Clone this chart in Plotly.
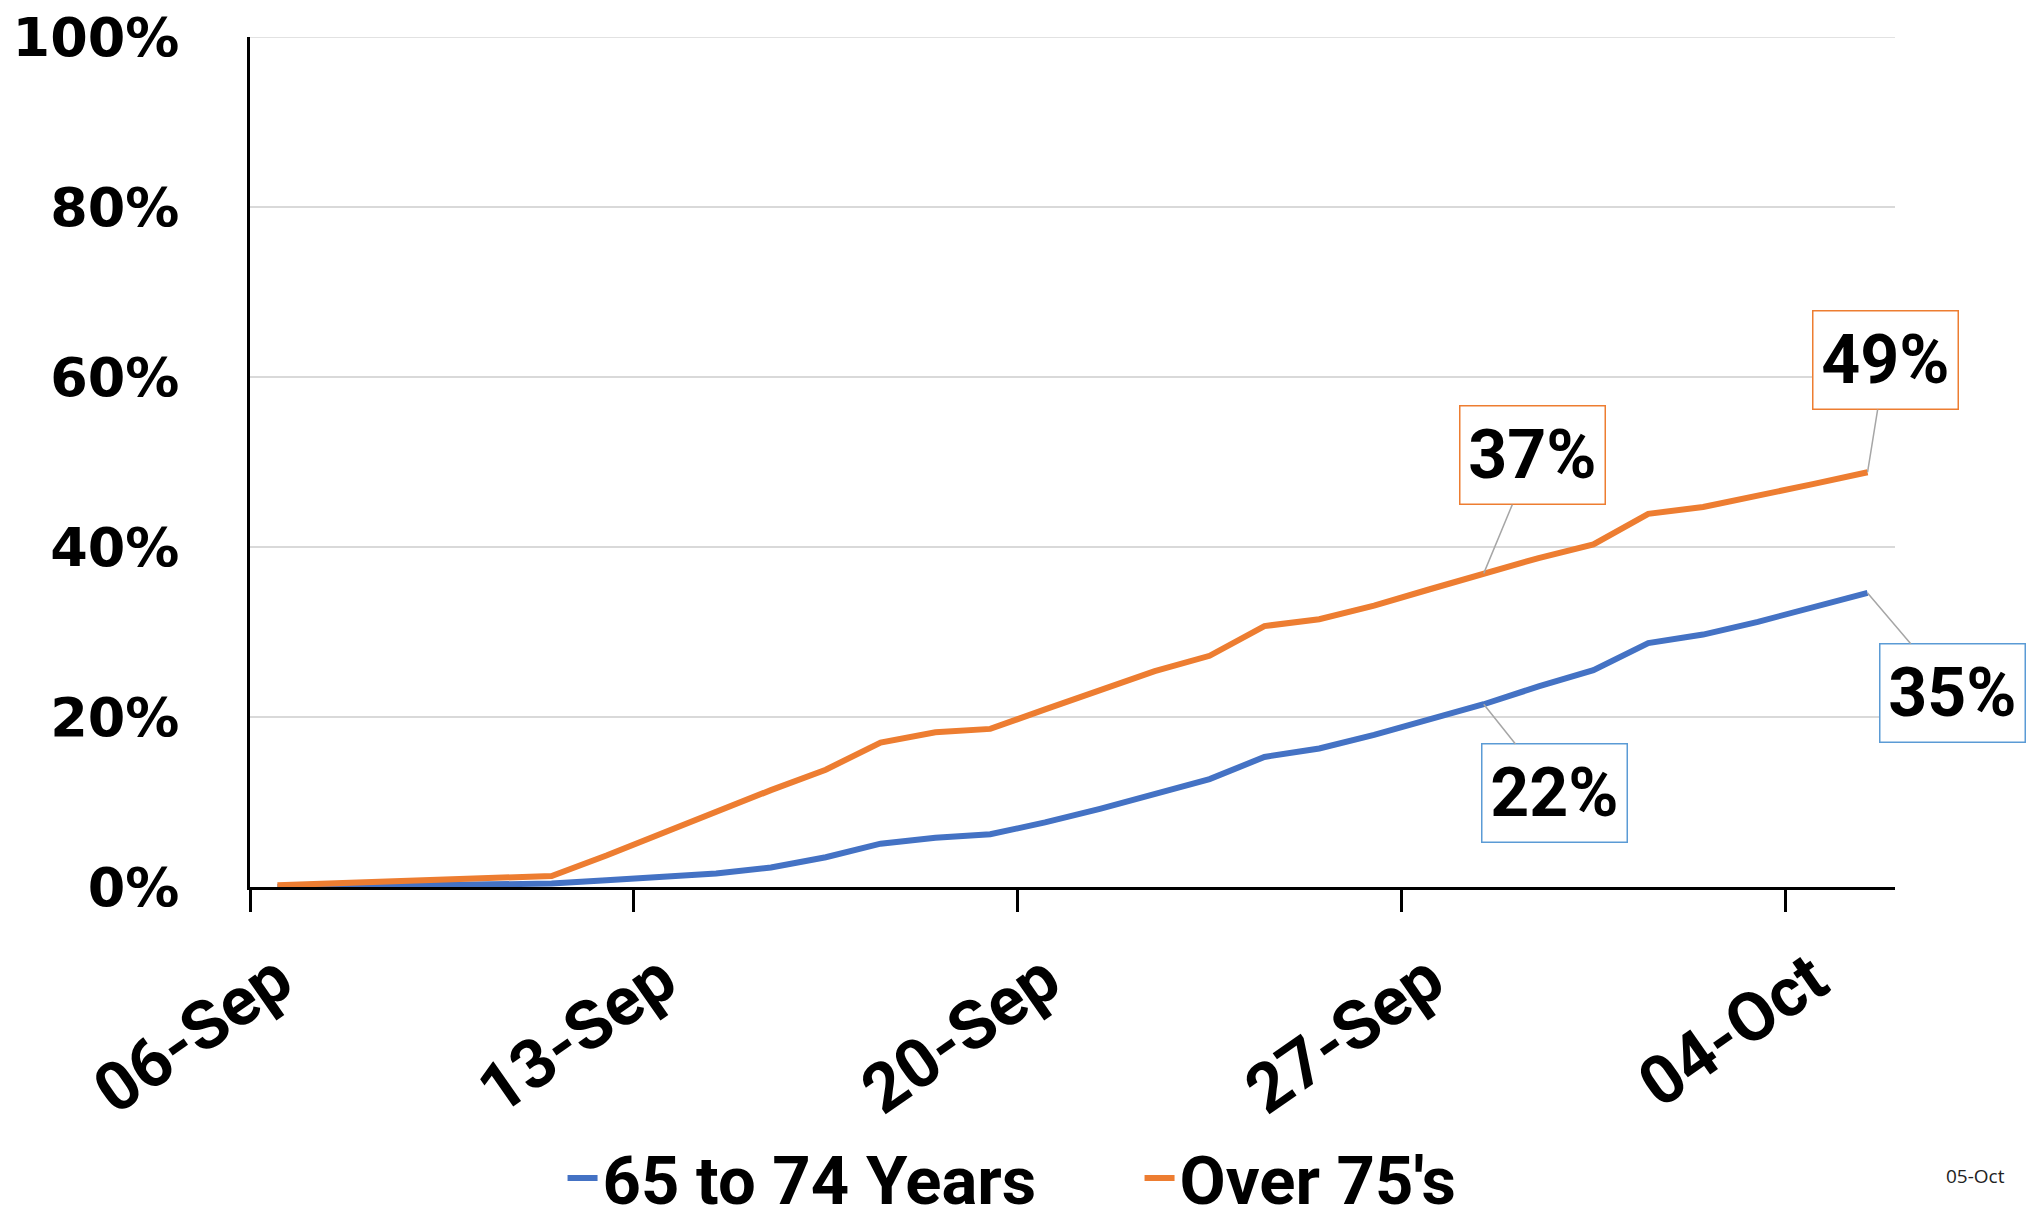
import plotly.graph_objects as go

# Daily cumulative uptake (%), 06-Sep to 05-Oct
dates = [
    "06-Sep", "07-Sep", "08-Sep", "09-Sep", "10-Sep", "11-Sep", "12-Sep",
    "13-Sep", "14-Sep", "15-Sep", "16-Sep", "17-Sep", "18-Sep", "19-Sep",
    "20-Sep", "21-Sep", "22-Sep", "23-Sep", "24-Sep", "25-Sep", "26-Sep",
    "27-Sep", "28-Sep", "29-Sep", "30-Sep", "01-Oct", "02-Oct", "03-Oct",
    "04-Oct", "05-Oct",
]
age_65_74 = [
    0.0, 0.1, 0.1, 0.2, 0.3, 0.4, 0.8, 1.2, 1.6, 2.3,
    3.5, 5.1, 5.8, 6.2, 7.6, 9.2, 10.9, 12.7, 15.3, 16.3,
    17.9, 19.7, 21.5, 23.6, 25.5, 28.7, 29.7, 31.2, 32.9, 34.6,
]
over_75 = [
    0.2, 0.4, 0.7, 0.9, 1.1, 1.3, 3.7, 6.3, 8.8, 11.4,
    13.8, 17.0, 18.2, 18.6, 20.9, 23.2, 25.4, 27.2, 30.7, 31.5,
    33.1, 35.0, 36.9, 38.7, 40.3, 43.9, 44.7, 46.0, 47.4, 48.8,
]
tick_labels = ["06-Sep", "13-Sep", "20-Sep", "27-Sep", "04-Oct"]
series_names = ["65 to 74 Years", "Over 75's"]
footnote = "05-Oct"

BLUE = "#4472C4"
ORANGE = "#ED7D31"
BLUE_BOX = "#5B9BD5"
GRID = "#D9D9D9"
LABEL_FONT = "Roboto"

x = list(range(len(dates)))
tick_pos = [dates.index(t) for t in tick_labels]

fig = go.Figure()
for name, vals, color in [
    (series_names[0], age_65_74, BLUE),
    (series_names[1], over_75, ORANGE),
]:
    fig.add_trace(go.Scatter(
        x=x, y=[v / 100 for v in vals], mode="lines", name=name,
        line=dict(color=color, width=6),
        hoverinfo="skip",
    ))

# Value call-outs: (values, date, box colour, offset of box from point)
callouts = [
    (over_75, "28-Sep", ORANGE, 49, -118),
    (over_75, "05-Oct", ORANGE, 18, -112),
    (age_65_74, "28-Sep", BLUE_BOX, 71, 89),
    (age_65_74, "05-Oct", BLUE_BOX, 85, 100),
]
for vals, d, bcol, ax, ay in callouts:
    i = dates.index(d)
    v = vals[i]
    fig.add_annotation(
        x=i, y=v / 100, xref="x", yref="y",
        text=f"<b>{v:.0f}%</b>",
        showarrow=True, arrowhead=0, arrowwidth=1.5, arrowcolor="#A6A6A6",
        ax=ax, ay=ay, standoff=0,
        bordercolor=bcol, borderwidth=1.5, borderpad=2, bgcolor="white",
        width=140, height=93,
        font=dict(family=LABEL_FONT, size=68, color="black"),
    )

# Top gridline at the 100% mark
fig.add_shape(
    type="line", xref="paper", yref="y", x0=0, x1=1, y0=1, y1=1,
    line=dict(color=GRID, width=1.5), layer="below",
)

fig.add_annotation(
    text=footnote, xref="paper", yref="paper", x=1.049, y=-0.34,
    xanchor="center", yanchor="middle",
    showarrow=False, font=dict(family="Open Sans", size=19, color="#222222"),
)

fig.update_layout(
    width=2028, height=1220, autosize=False,
    margin=dict(l=250, r=133, t=37, b=333, autoexpand=False),
    paper_bgcolor="white", plot_bgcolor="white",
    showlegend=True,
    legend=dict(
        orientation="h", x=0.19, xanchor="left", y=-0.343, yanchor="middle",
        font=dict(family=LABEL_FONT, size=67, color="black", weight="bold"),
        itemwidth=30, tracegroupgap=0,
        entrywidth=532, entrywidthmode="pixels",
    ),
    xaxis=dict(
        range=[-0.5, len(dates) - 0.5],
        tickmode="array", tickvals=tick_pos, ticktext=tick_labels,
        tickangle=-35, ticks="",
        tickfont=dict(family=LABEL_FONT, size=68, color="black", weight="bold"),
        ticklabelstandoff=24,
        showline=True, linecolor="black", linewidth=2.5,
        showgrid=False, zeroline=False, automargin=False,
        minor=dict(
            tickmode="array", tickvals=[p - 0.5 for p in tick_pos],
            ticks="outside", ticklen=22, tickwidth=2.5, tickcolor="black",
            showgrid=False,
        ),
    ),
    yaxis=dict(
        range=[0, 1], dtick=0.2, tick0=0, tickformat=".0%",
        tickfont=dict(family="DejaVu Sans", size=54, color="black", weight="bold"),
        ticks="", ticklabelstandoff=57,
        showline=True, linecolor="black", linewidth=2.5,
        showgrid=True, gridcolor=GRID, gridwidth=1.5,
        zeroline=False, automargin=False,
    ),
)

fig.write_html("out.html")
